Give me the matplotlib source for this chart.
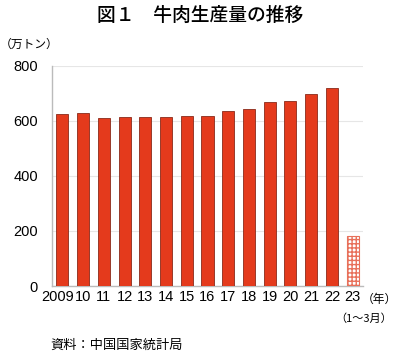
import numpy as np
import matplotlib.pyplot as plt

plt.rcParams['font.family'] = ['Noto Sans CJK JP', 'DejaVu Sans']

## Data (China beef production, 10k tons)
years = ['2009', '10', '11', '12', '13', '14', '15', '16', '17', '18', '19', '20', '21', '22', '23']
production = [626, 629, 610, 615, 613, 616, 617, 617, 635, 644, 667, 672, 698, 718, 182]

fig = plt.figure(figsize=(4.0, 3.58), dpi=100)
ax = fig.add_axes([0.13, 0.201, 0.7775, 0.615])

x = np.arange(len(years))
# full years
ax.bar(x[:-1], production[:-1], width=0.58, color='#E43A1C', edgecolor='#8a2a1a', linewidth=0.6, zorder=3)
# partial year (Jan-Mar) hatched
ax.bar(x[-1:], production[-1:], width=0.58, color='white', edgecolor='#E8705A', hatch='++++', linewidth=0.8, zorder=3)

ax.set_xlim(-0.5, len(years) - 0.5)
ax.set_ylim(0, 800)
ax.set_yticks([0, 200, 400, 600, 800])
ax.set_xticks(x)
ax.set_xticklabels([])
for lab in ax.get_yticklabels():
    lab.set_family('Liberation Sans')
    lab.set_fontsize(10.5)
# year labels drawn by hand so the long "2009" can sit a bit left of its bar
for i, yr in enumerate(years):
    dx = -3.5 if i == 0 else 0
    ax.annotate(yr, xy=(x[i], 0), xycoords=('data', 'axes fraction'),
                xytext=(dx, -3), textcoords='offset points', ha='center', va='top',
                family='Liberation Sans', fontsize=10.5)
ax.tick_params(axis='both', length=0)
ax.tick_params(axis='y', pad=10)
ax.yaxis.grid(True, color='#e6e6e6', linewidth=0.8, zorder=0)
ax.set_axisbelow(True)
for s in ['top', 'right']:
    ax.spines[s].set_visible(False)
for s in ['left', 'bottom']:
    ax.spines[s].set_color('#bbbbbb')
    ax.spines[s].set_linewidth(1.0)

fig.text(0.5, 0.958, '図１　牛肉生産量の推移', ha='center', va='center', fontsize=13.5, fontweight='medium')
fig.text(0.0, 0.875, '（万トン）', ha='left', va='center', fontsize=8.5)
fig.text(0.905, 0.165, '（年）', ha='left', va='center', fontsize=8.5)
fig.text(0.838, 0.11, '（1～3月）', ha='left', va='center', fontsize=8)
fig.text(0.125, 0.035, '資料：中国国家統計局', ha='left', va='center', fontsize=9.5)

plt.savefig('out.png', dpi=100)
